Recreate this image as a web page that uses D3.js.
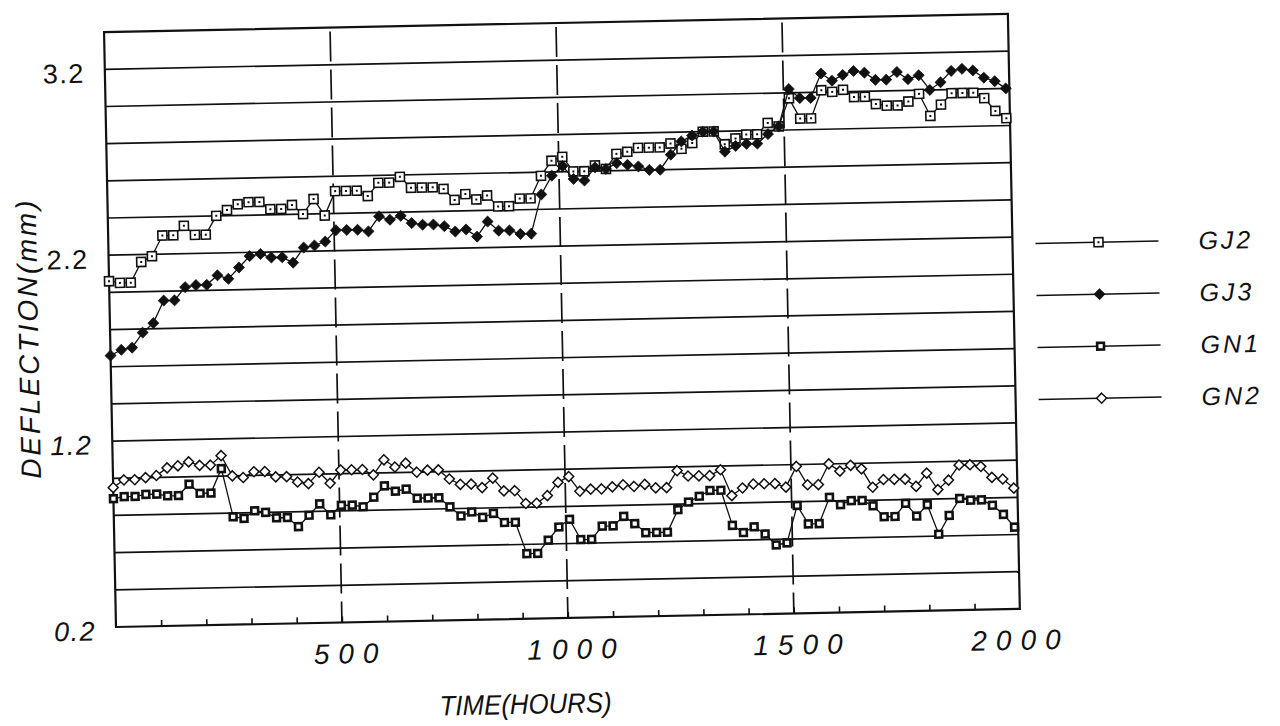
<!DOCTYPE html>
<html>
<head>
<meta charset="utf-8">
<script src="https://cdn.jsdelivr.net/npm/d3@7"></script>
<style>
  html, body { margin: 0; padding: 0; background: #fff; }
  svg { display: block; }
  text { font-family: "Liberation Sans", Arial, Helvetica, sans-serif; fill: #111; }
</style>
</head>
<body>
<svg id="chart" width="1280" height="726"></svg>
<script>
// Daily deflection readings, one every 24 hours
const hours = [
  0, 24, 48, 72, 96, 120, 144, 168, 192, 216, 240, 264, 288, 312, 336, 360, 384, 408, 432, 456,
  480, 504, 528, 552, 576, 600, 624, 648, 672, 696, 720, 744, 768, 792, 816, 840, 864, 888, 912, 936,
  960, 984, 1008, 1032, 1056, 1080, 1104, 1128, 1152, 1176, 1200, 1224, 1248, 1272, 1296, 1320, 1344, 1368, 1392, 1416,
  1440, 1464, 1488, 1512, 1536, 1560, 1584, 1608, 1632, 1656, 1680, 1704, 1728, 1752, 1776, 1800, 1824, 1848, 1872, 1896,
  1920, 1944, 1968, 1992
];

const gj2 = [
  2.06, 2.05, 2.05, 2.16, 2.19, 2.30, 2.30, 2.35, 2.30, 2.30, 2.40, 2.43, 2.46, 2.47, 2.47, 2.43, 2.43, 2.45, 2.40, 2.48,
  2.39, 2.52, 2.52, 2.52, 2.49, 2.56, 2.56, 2.59, 2.53, 2.53, 2.53, 2.52, 2.46, 2.49, 2.46, 2.48, 2.42, 2.42, 2.46, 2.46,
  2.58, 2.66, 2.68, 2.60, 2.60, 2.63, 2.61, 2.69, 2.70, 2.72, 2.72, 2.72, 2.74, 2.71, 2.74, 2.80, 2.80, 2.73, 2.76, 2.78,
  2.78, 2.84, 2.82, 2.97, 2.86, 2.86, 3.01, 3.00, 3.01, 2.97, 2.97, 2.93, 2.92, 2.92, 2.94, 2.98, 2.86, 2.92, 2.98, 2.98,
  2.98, 2.95, 2.88, 2.84
];

const gj3 = [
  1.66, 1.69, 1.70, 1.78, 1.83, 1.95, 1.95, 2.02, 2.03, 2.03, 2.08, 2.06, 2.12, 2.18, 2.19, 2.17, 2.17, 2.14, 2.22, 2.23,
  2.25, 2.31, 2.31, 2.31, 2.30, 2.38, 2.36, 2.38, 2.34, 2.33, 2.33, 2.32, 2.29, 2.30, 2.26, 2.34, 2.29, 2.29, 2.27, 2.27,
  2.48, 2.58, 2.63, 2.56, 2.55, 2.62, 2.61, 2.64, 2.63, 2.62, 2.60, 2.60, 2.68, 2.75, 2.78, 2.80, 2.80, 2.69, 2.72, 2.73,
  2.73, 2.78, 2.82, 3.02, 2.97, 2.97, 3.10, 3.06, 3.09, 3.11, 3.10, 3.06, 3.06, 3.10, 3.06, 3.08, 3.00, 3.04, 3.10, 3.11,
  3.10, 3.06, 3.04, 3.00
];

const gn1 = [
  0.89, 0.90, 0.90, 0.91, 0.91, 0.90, 0.90, 0.96, 0.91, 0.91, 1.04, 0.78, 0.77, 0.81, 0.80, 0.77, 0.77, 0.72, 0.78, 0.84,
  0.78, 0.83, 0.83, 0.82, 0.87, 0.93, 0.90, 0.91, 0.86, 0.86, 0.86, 0.81, 0.76, 0.78, 0.75, 0.77, 0.72, 0.72, 0.55, 0.55,
  0.62, 0.69, 0.73, 0.62, 0.62, 0.69, 0.69, 0.74, 0.70, 0.65, 0.65, 0.65, 0.77, 0.81, 0.84, 0.87, 0.87, 0.68, 0.64, 0.67,
  0.63, 0.57, 0.58, 0.78, 0.68, 0.68, 0.82, 0.78, 0.80, 0.80, 0.77, 0.71, 0.71, 0.78, 0.71, 0.77, 0.61, 0.71, 0.80, 0.79,
  0.79, 0.76, 0.71, 0.64
];

const gn2 = [
  0.95, 0.99, 0.99, 1.00, 1.01, 1.05, 1.06, 1.08, 1.06, 1.06, 1.11, 1.00, 0.99, 1.02, 1.02, 0.99, 0.99, 0.96, 0.95, 1.01,
  0.95, 1.02, 1.02, 1.02, 0.99, 1.07, 1.03, 1.05, 1.00, 1.01, 1.01, 0.96, 0.93, 0.93, 0.91, 0.96, 0.89, 0.89, 0.82, 0.82,
  0.86, 0.93, 0.96, 0.88, 0.89, 0.89, 0.90, 0.91, 0.90, 0.91, 0.89, 0.89, 0.98, 0.95, 0.95, 0.95, 0.98, 0.84, 0.88, 0.90,
  0.90, 0.90, 0.88, 0.99, 0.89, 0.89, 1.00, 0.96, 0.99, 0.97, 0.87, 0.91, 0.91, 0.91, 0.87, 0.94, 0.85, 0.90, 0.98, 0.98,
  0.97, 0.91, 0.90, 0.85
];

const seriesNames = ["GJ2", "GJ3", "GN1", "GN2"];
const seriesValues = [gj2, gj3, gn1, gn2];

const xLabelTicks = [500, 1000, 1500, 2000];
const xGridTicks = [500, 1000, 1500];
const yLabelTicks = [0.2, 1.2, 2.2, 3.2];
const xTitle = "TIME(HOURS)";
const yTitle = "DEFLECTION(mm)";

// ---- layout ----
const plot = { left: 116, top: 32, width: 904, height: 595 };
const bottom = plot.top + plot.height;
const right = plot.left + plot.width;

const svg = d3.select("#chart");
svg.append("rect").attr("width", 1280).attr("height", 726).attr("fill", "#fff");

// the whole sheet sits slightly tilted
const g = svg.append("g")
  .attr("transform", `rotate(-1.15, ${plot.left}, ${bottom})`);

const x = d3.scaleLinear().domain([0, 2000]).range([plot.left, right]);
const y = d3.scaleLinear().domain([0.2, 3.4]).range([bottom, plot.top]);

// horizontal grid every 0.2 mm
const yGrid = y.ticks(16).filter(v => v > 0.25 && v < 3.35);
g.append("g").selectAll("line").data(yGrid).join("line")
  .attr("x1", plot.left).attr("x2", right)
  .attr("y1", d => y(d)).attr("y2", d => y(d))
  .attr("stroke", "#111").attr("stroke-width", 1.7);

// vertical dashed grid
g.append("g").selectAll("line").data(xGridTicks).join("line")
  .attr("x1", d => x(d)).attr("x2", d => x(d))
  .attr("y1", plot.top + 4).attr("y2", bottom)
  .attr("stroke", "#111").attr("stroke-width", 1.7)
  .attr("stroke-dasharray", "30,8");

// frame
g.append("rect")
  .attr("x", plot.left).attr("y", plot.top)
  .attr("width", plot.width).attr("height", plot.height)
  .attr("fill", "none").attr("stroke", "#111").attr("stroke-width", 2.2);

// inward minor ticks on the time axis
const xAxis = d3.axisBottom(x).tickValues(x.ticks(20).filter(t => t > 0 && t < 2000))
  .tickSize(-6).tickFormat("");
const xAxisG = g.append("g").attr("transform", `translate(0,${bottom})`).call(xAxis);
xAxisG.select(".domain").remove();
xAxisG.selectAll(".tick line").attr("stroke", "#111").attr("stroke-width", 1.6);

// time labels
g.append("g").selectAll("text").data(xLabelTicks).join("text")
  .attr("x", d => x(d) + (d === 2000 ? 0 : 8))
  .attr("y", bottom + 41)
  .attr("text-anchor", "middle")
  .attr("font-size", 28).attr("font-style", "italic")
  .attr("letter-spacing", 9)
  .text(d => d3.format("d")(d));

// deflection labels
g.append("g").selectAll("text").data(yLabelTicks).join("text")
  .attr("x", plot.left - 20)
  .attr("y", d => y(d) + 13)
  .attr("text-anchor", "end")
  .attr("font-size", 27)
  .attr("letter-spacing", 1.5)
  .attr("font-style", d => d < 2 ? "italic" : "normal")
  .text(d => d3.format(".1f")(d));

// axis titles
g.append("text")
  .attr("x", 524).attr("y", 722)
  .attr("text-anchor", "middle")
  .attr("font-size", 28).attr("font-style", "italic")
  .attr("textLength", 172).attr("lengthAdjust", "spacingAndGlyphs")
  .text(xTitle);

g.append("text")
  .attr("transform", "translate(44,338) rotate(-90)")
  .attr("text-anchor", "middle")
  .attr("font-size", 28).attr("font-style", "italic")
  .attr("textLength", 278).attr("lengthAdjust", "spacing")
  .text(yTitle);

// ---- markers ----
const markerDraw = {
  GJ2: (sel) => {
    sel.append("rect").attr("x", -4.5).attr("y", -4.5).attr("width", 9).attr("height", 9)
      .attr("fill", "#fff").attr("stroke", "#111").attr("stroke-width", 1.6);
    sel.append("rect").attr("x", -1).attr("y", -1).attr("width", 2).attr("height", 2).attr("fill", "#111");
  },
  GJ3: (sel) => {
    sel.append("path").attr("d", "M0,-5.5L5.5,0L0,5.5L-5.5,0Z").attr("fill", "#111")
      .attr("stroke", "#111").attr("stroke-width", 0.8);
  },
  GN1: (sel) => {
    sel.append("rect").attr("x", -3.4).attr("y", -3.4).attr("width", 6.8).attr("height", 6.8)
      .attr("fill", "#fff").attr("stroke", "#111").attr("stroke-width", 2.6);
  },
  GN2: (sel) => {
    sel.append("path").attr("d", "M0,-5L5,0L0,5L-5,0Z").attr("fill", "#fff")
      .attr("stroke", "#111").attr("stroke-width", 1.5);
  }
};

const line = d3.line().x(d => x(d.t)).y(d => y(d.v));

seriesNames.forEach((name, k) => {
  const pts = hours.map((t, i) => ({ t, v: seriesValues[k][i] }));
  const sg = g.append("g").attr("class", "series-" + name);
  sg.append("path").datum(pts).attr("d", line)
    .attr("fill", "none").attr("stroke", "#111").attr("stroke-width", 1.3);
  sg.selectAll("g.mk").data(pts).join("g").attr("class", "mk")
    .attr("transform", d => `translate(${x(d.t)},${y(d.v)})`)
    .each(function () { markerDraw[name](d3.select(this)); });
});

// ---- legend ----
const legend = g.append("g");
seriesNames.forEach((name, k) => {
  const ly = 262 + k * 52;
  legend.append("line").attr("x1", 1043).attr("x2", 1166).attr("y1", ly).attr("y2", ly)
    .attr("stroke", "#111").attr("stroke-width", 1.5);
  const mg = legend.append("g").attr("transform", `translate(1106,${ly})`);
  markerDraw[name](mg);
  legend.append("text").attr("x", 1206).attr("y", ly + 9)
    .attr("font-size", 25).attr("font-style", "italic").attr("letter-spacing", 3)
    .text(name);
});
</script>
</body>
</html>
